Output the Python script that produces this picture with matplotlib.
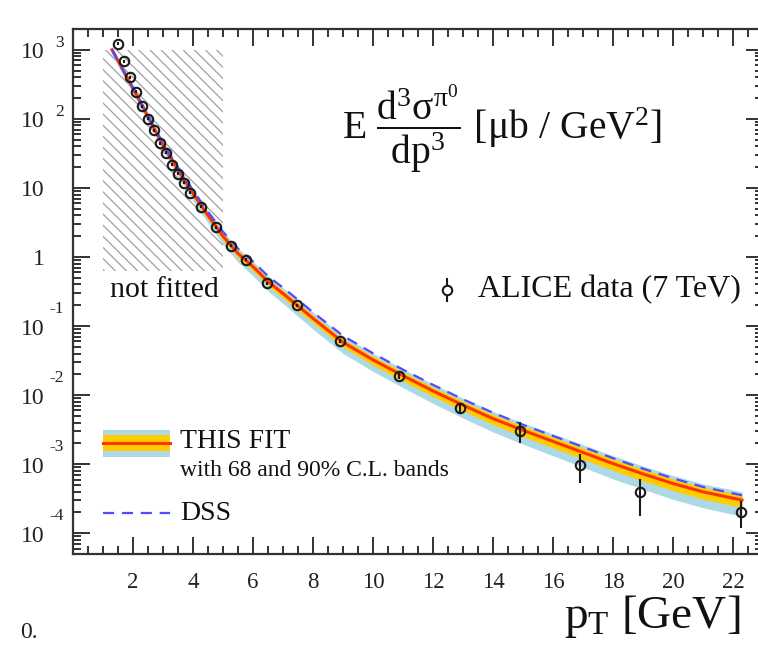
import matplotlib
matplotlib.use("Agg")
import matplotlib.pyplot as plt
from matplotlib.patches import Rectangle
from matplotlib.lines import Line2D
from matplotlib.ticker import MultipleLocator, LogLocator, NullFormatter
from matplotlib.transforms import blended_transform_factory, offset_copy
import numpy as np

plt.rcParams['font.family'] = ['Liberation Serif', 'DejaVu Serif']
plt.rcParams['mathtext.fontset'] = 'custom'
plt.rcParams['mathtext.rm'] = 'Liberation Serif'
plt.rcParams['mathtext.it'] = 'Liberation Serif'
plt.rcParams['mathtext.bf'] = 'Liberation Serif:bold'
plt.rcParams['hatch.linewidth'] = 0.9

# ALICE pi0 data (7 TeV)
alice_pt = [1.5, 1.7, 1.9, 2.1, 2.3, 2.5, 2.7, 2.9, 3.1, 3.3, 3.5, 3.7, 3.9,
            4.25, 4.75, 5.25, 5.75, 6.45, 7.45, 8.9, 10.85, 12.9, 14.9, 16.9,
            18.9, 22.25]
alice_val = [1220, 680, 400, 245, 151, 100, 68, 44.5, 32.5, 21.5, 16.0, 11.9,
             8.55, 5.35, 2.7, 1.46, 0.905, 0.416, 0.201, 0.0607, 0.0188,
             0.00642, 0.00304, 0.00097, 0.000397, 0.000204]
alice_relerr = [0.05] * 19 + [0.07, 0.1, 0.15, 0.33, 0.45, 0.55, 0.42]

# fit curve and DSS
fit_pt = [1.3, 1.6, 1.9, 2.2, 2.5, 3.0, 3.5, 4.0, 4.5, 5.0, 5.5, 6.0, 6.5, 7.0,
          7.5, 8.0, 9.0, 10.0, 11.0, 12.0, 13.0, 14.0, 15.0, 16.0, 17.0, 18.0,
          19.0, 20.0, 21.0, 22.3]
fit_val = [1000, 575, 331, 191, 107, 41.7, 18.2, 8.32, 3.98, 2.0, 1.12, 0.724,
           0.44, 0.295, 0.195, 0.129, 0.0582, 0.0324, 0.0191, 0.0115, 0.00716,
           0.00457, 0.00309, 0.00214, 0.00148, 0.00102, 0.000724, 0.000525,
           0.000398, 0.000302]
dss_val = [1000, 575, 335, 195, 111, 44.2, 19.7, 9.23, 4.52, 2.32, 1.32, 0.861,
           0.528, 0.359, 0.240, 0.158, 0.0724, 0.0403, 0.0234, 0.0141, 0.0087,
           0.00556, 0.00372, 0.00257, 0.00178, 0.00122, 0.000861, 0.000624,
           0.000468, 0.000355]
unc68 = [0.08, 0.08, 0.085, 0.09, 0.09, 0.095, 0.1, 0.105, 0.11, 0.12, 0.12,
         0.125, 0.13, 0.135, 0.14, 0.14, 0.15, 0.16, 0.165, 0.17, 0.175, 0.18,
         0.19, 0.195, 0.2, 0.205, 0.21, 0.21, 0.215, 0.22]
unc90 = [0.15, 0.15, 0.16, 0.17, 0.18, 0.19, 0.2, 0.21, 0.22, 0.24, 0.25,
         0.26, 0.27, 0.28, 0.29, 0.3, 0.31, 0.32, 0.33, 0.34, 0.35, 0.36, 0.37,
         0.38, 0.39, 0.4, 0.4, 0.41, 0.41, 0.42]

x_major = [2, 4, 6, 8, 10, 12, 14, 16, 18, 20, 22]
y_exps = [-4, -3, -2, -1, 0, 1, 2, 3]

fit = np.array(fit_val)
u68 = np.array(unc68)
u90 = np.array(unc90)

fig = plt.figure(figsize=(7.58, 6.48), dpi=100)
ax = fig.add_axes([73 / 758, 94 / 648, 690 / 758, 525 / 648])

# not fitted region
ax.add_patch(Rectangle((1.0, 0.62), 4.0, 1000 - 0.62, facecolor='none',
                       edgecolor='#a0a0a0', hatch='\\\\\\', linewidth=0, zorder=1))

ax.fill_between(fit_pt, fit * (1 - u90), fit * (1 + u90 * 0.75),
                color='#add8e6', lw=0, zorder=2)
ax.fill_between(fit_pt, fit * (1 - u68), fit * (1 + u68 * 0.8),
                color='#ffcc00', lw=0, zorder=3)
ax.plot(fit_pt, fit_val, color='#ff3300', lw=2.2, zorder=4)
ax.plot(fit_pt, dss_val, color='#4d4dff', lw=1.6, ls=(0, (5, 3.5)), zorder=4)

yerr = np.array(alice_val) * np.array(alice_relerr)
ax.errorbar(alice_pt, alice_val, yerr=yerr, fmt='o', ms=6.8, mfc='none',
            mec='#1a1a1a', mew=1.5, ecolor='#1a1a1a', elinewidth=1.5,
            capsize=0, zorder=5)

ax.set_yscale('log')
ax.set_xlim(0, 23)
ax.set_ylim(10 ** -4.3, 10 ** 3.3)

ax.xaxis.set_major_locator(plt.FixedLocator(x_major))
ax.xaxis.set_minor_locator(MultipleLocator(0.5))
ax.yaxis.set_major_locator(LogLocator(base=10, numticks=20))
ax.yaxis.set_minor_locator(LogLocator(base=10, subs=np.arange(2, 10), numticks=20))
ax.yaxis.set_major_formatter(NullFormatter())
ax.yaxis.set_minor_formatter(NullFormatter())
ax.tick_params(which='both', direction='in', top=True, right=True,
               color='#222222', width=1.3)
ax.tick_params(which='major', length=12)
ax.tick_params(which='minor', length=6)
ax.tick_params(axis='x', labelsize=16.5, pad=13, colors='#222222')
for s in ax.spines.values():
    s.set_linewidth(1.6)
    s.set_color('#333333')

# y tick labels as 10 with raised exponent
tr = blended_transform_factory(ax.transAxes, ax.transData)
for e in y_exps:
    base_tr = offset_copy(tr, fig=fig, x=0, y=-3, units='dots')
    if e == 0:
        ax.text(-0.0406, 1.0, '1', transform=base_tr, ha='right', va='center',
                fontsize=17, color='#222222')
    elif e == 1:
        ax.text(-0.0406, 10.0, '10', transform=base_tr, ha='right', va='center',
                fontsize=17, color='#222222')
    else:
        ax.text(-0.0406, 10.0 ** e, '10', transform=base_tr, ha='right',
                va='center', fontsize=17, color='#222222')
        up = 7 if e > 0 else 17
        exp_tr = offset_copy(tr, fig=fig, x=0, y=up, units='dots')
        ax.text(-0.013, 10.0 ** e, str(e), transform=exp_tr, ha='right',
                va='center', fontsize=12.5, color='#222222')

# formula
ax.text(0.39, 0.811,
        r'$\mathrm{E}\ \dfrac{\mathrm{d^3\sigma^{\pi^0}}}{\mathrm{dp^3}}\ [\mu\mathrm{b\ /\ GeV^2}]$',
        transform=ax.transAxes, ha='left', va='center', fontsize=28.5,
        color='#111111')

ax.text(0.0536, 0.503, 'not fitted', transform=ax.transAxes, ha='left',
        va='center', fontsize=21.5, color='#111111')

# ALICE legend entry
ax.add_line(Line2D([0.542, 0.542], [0.482, 0.524], transform=ax.transAxes,
                   color='#1a1a1a', lw=1.5))
ax.add_line(Line2D([0.542], [0.503], transform=ax.transAxes, marker='o',
                   ms=6.8, mfc='white', mec='#1a1a1a', mew=1.5))
ax.text(0.587, 0.503, 'ALICE data (7 TeV)', transform=ax.transAxes,
        ha='left', va='center', fontsize=23, color='#111111')

# fit / DSS legend
ax.add_patch(Rectangle((0.0435, 0.1848), 0.097, 0.0514, transform=ax.transAxes,
                       facecolor='#add8e6', lw=0, zorder=6))
ax.add_patch(Rectangle((0.0435, 0.1962), 0.097, 0.0305, transform=ax.transAxes,
                       facecolor='#ffcc00', lw=0, zorder=6))
ax.add_line(Line2D([0.0435, 0.1405], [0.2114, 0.2114], transform=ax.transAxes,
                   color='#ff3300', lw=2.2, zorder=7))
ax.text(0.155, 0.215, 'THIS FIT', transform=ax.transAxes, ha='left',
        va='center', fontsize=20, color='#111111')
ax.text(0.155, 0.160, 'with 68 and 90% C.L. bands', transform=ax.transAxes,
        ha='left', va='center', fontsize=17, color='#111111')
ax.add_line(Line2D([0.0435, 0.1405], [0.0781, 0.0781], transform=ax.transAxes,
                   color='#4d4dff', lw=1.6, ls=(0, (5, 3.5))))
ax.text(0.155, 0.078, 'DSS', transform=ax.transAxes, ha='left', va='center',
        fontsize=20, color='#111111')

fig.text(740 / 758, 1 - 617 / 648, r'$\mathrm{p_T}$ [GeV]', ha='right',
         va='center', fontsize=34, color='#111111')
fig.text(20 / 758, 1 - 632 / 648, '0.', ha='left', va='center', fontsize=17,
         color='#222222')

fig.savefig('out.png', dpi=100)
